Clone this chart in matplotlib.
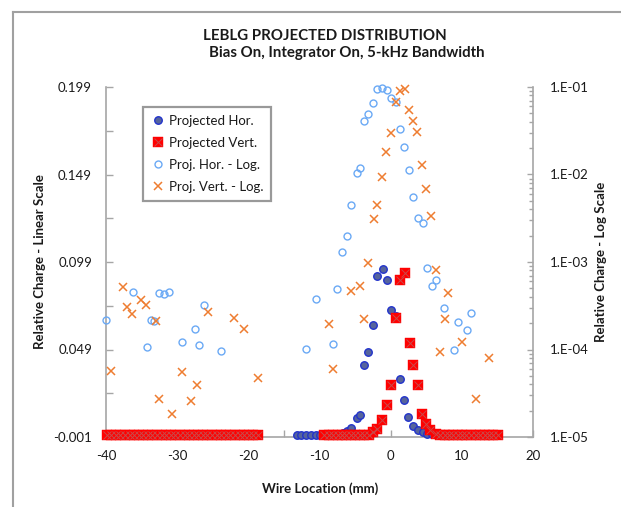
import numpy as np
import matplotlib
matplotlib.use('Agg')
import matplotlib.pyplot as plt
from matplotlib.ticker import FixedLocator, FuncFormatter, LogLocator, NullFormatter
from matplotlib.lines import Line2D

plt.rcParams['font.family'] = ['Lato', 'DejaVu Sans']

# ---------------- data ----------------
title_line1 = "LEBLG PROJECTED DISTRIBUTION"
title_line2 = "Bias On, Integrator On, 5-kHz Bandwidth"
xlabel = "Wire Location (mm)"
ylabel_left = "Relative Charge - Linear Scale"
ylabel_right = "Relative Charge - Log Scale"
series_names = ["Projected Hor.", "Projected Vert.", "Proj. Hor. - Log.", "Proj. Vert. - Log."]

left_ticks = [-0.001, 0.049, 0.099, 0.149, 0.199]
x_ticks = [-40, -30, -20, -10, 0, 10, 20]

# Projected Hor. (linear)
hor_x = [-13.2, -12.55, -11.9, -11.2, -10.55, -9.9, -9.25, -8.6, -7.95, -7.3, -6.75, -6.14,
         -5.6, -4.79, -4.28, -3.8, -3.15, -2.45, -1.88, -1.12, -0.57, 0.08, 0.69, 1.25,
         1.9, 2.5, 3.14, 3.84, 4.48, 5.1, 5.77, 6.4]
hor_lin = [0, 0, 0, 0, 0, 0, 0, 0, 0, 0, 0.0013, 0.0026,
           0.004, 0.010, 0.0116, 0.040, 0.0474, 0.0632, 0.091, 0.0948, 0.0887, 0.0717, 0.068, 0.0323,
           0.020, 0.0107, 0.0055, 0.0028, 0.002, 0.0008, 0.0005, 0.0006]

# Projected Vert. (linear)
vert_x = [-39.9, -39.26, -38.61, -37.97, -37.33, -36.68, -36.04, -35.4, -34.75, -34.11,
          -33.47, -32.82, -32.18, -31.54, -30.89, -30.25, -29.61, -28.96, -28.32, -27.68,
          -27.03, -26.39, -25.75, -25.1, -24.46, -23.82, -23.17, -22.53, -21.89, -21.24,
          -20.6, -19.96, -19.31, -18.67,
          -9.3, -8.68, -8.07, -7.45, -6.84, -6.22, -5.63, -4.99, -4.37, -3.72,
          -3.1, -2.45, -1.93, -1.25, -0.55, 0.06, 0.72, 1.31, 1.98, 2.65,
          3.1, 3.78, 4.4, 5.03, 5.55, 6.31, 6.97, 7.58, 8.15, 8.8,
          9.4, 10.02, 10.65, 11.3, 11.99, 12.6, 13.2, 13.76, 14.4, 15.05]
vert_lin = [0, 0, 0, 0, 0, 0, 0, 0, 0, 0,
            0, 0, 0, 0, 0, 0, 0, 0, 0, 0,
            0, 0, 0, 0, 0, 0, 0, 0, 0, 0,
            0, 0, 0, 0,
            0, 0, 0, 0, 0, 0, 0, 0, 0, 0,
            0.0001, 0.002, 0.0036, 0.0087, 0.0171, 0.0285, 0.0668, 0.089, 0.0925, 0.053,
            0.040, 0.029, 0.012, 0.0063, 0.003, 0.0005, 0, 0, 0, 0,
            0, 0, 0, 0, 0, 0, 0, 0, 0, 0]

# Proj. Hor. - Log
hlog_x = [-40.0, -36.25, -34.3, -33.68, -33.2, -32.5, -31.85, -31.2, -29.29, -27.5, -26.9,
          -26.24, -23.8, -11.85, -10.55, -8.17, -7.5, -6.84, -6.18, -5.6, -4.74, -4.28,
          -3.75, -3.15, -2.45, -1.88, -1.17, -0.57, 0.08, 0.69, 1.25, 1.9, 2.52, 3.16,
          3.84, 4.48, 5.1, 5.77, 6.4, 7.49, 8.84, 9.46, 10.76, 11.24]
hlog_y = [2.17e-4, 4.51e-4, 1.08e-4, 2.17e-4, 2.13e-4, 4.39e-4, 4.27e-4, 4.51e-4, 1.22e-4,
          1.71e-4, 1.12e-4, 3.23e-4, 9.62e-5, 1.01e-4, 3.75e-4, 1.15e-4, 4.91e-4, 1.30e-3,
          1.97e-3, 4.48e-3, 1.04e-2, 1.18e-2, 4.08e-2, 4.88e-2, 6.61e-2, 9.48e-2, 9.82e-2,
          9.25e-2, 7.55e-2, 6.79e-2, 3.31e-2, 2.05e-2, 1.12e-2, 5.53e-3, 3.21e-3, 2.77e-3,
          8.47e-4, 5.36e-4, 6.28e-4, 2.96e-4, 9.86e-5, 2.05e-4, 1.66e-4, 2.61e-4]

# Proj. Vert. - Log
vlog_x = [-39.35, -37.67, -37.0, -36.3, -35.08, -34.38, -33.03, -32.6, -30.7, -29.38, -28.1,
          -27.17, -25.67, -22.0, -20.66, -18.7, -8.68, -8.07, -5.63, -4.37, -3.72, -3.12,
          -2.4, -1.98, -1.28, -0.6, 0.04, 0.69, 1.31, 1.96, 2.6, 3.08, 3.73, 4.34, 5.0,
          5.61, 6.31, 6.97, 7.58, 8.08, 10.02, 11.99, 13.76]
vlog_y = [5.68e-5, 5.18e-4, 3.06e-4, 2.56e-4, 3.68e-4, 3.20e-4, 2.13e-4, 2.72e-5, 1.85e-5,
          5.50e-5, 2.56e-5, 3.93e-5, 2.70e-4, 2.28e-4, 1.73e-4, 4.72e-5, 1.95e-4, 6.04e-5,
          4.70e-4, 5.36e-4, 2.21e-4, 9.75e-4, 3.08e-3, 4.52e-3, 9.35e-3, 1.82e-2, 2.96e-2,
          6.79e-2, 9.08e-2, 9.42e-2, 5.46e-2, 4.12e-2, 3.03e-2, 1.29e-2, 6.78e-3, 3.36e-3,
          8.11e-4, 9.44e-5, 2.25e-4, 4.46e-4, 1.22e-4, 2.74e-5, 7.94e-5]

# ---------------- style ----------------
W, H = 621, 507
TXT = '#1a1a1a'
AXC = '#a6a6a6'
C_HOR_FACE = '#56649c'
C_HOR_EDGE = '#2233cc'
C_VERT = '#ff0000'
C_VERT_X = '#c94a4a'
C_HLOG = '#6aa9f5'
C_VLOG = '#ee7d31'

fig = plt.figure(figsize=(W / 100, H / 100), dpi=100)
ax = fig.add_axes([106 / W, 1 - 437 / H, 427 / W, 350 / H])
ax2 = ax.twinx()

# linear series
h1, = ax.plot(hor_x, hor_lin, ls='none', marker='o', ms=5.4, mfc=C_HOR_FACE, mec=C_HOR_EDGE,
              mew=1.0, clip_on=False, zorder=3)
h2a, = ax.plot(vert_x, vert_lin, ls='none', marker='s', ms=7.8, mfc=C_VERT, mec=C_VERT,
               mew=0.3, clip_on=False, zorder=4)
h2b, = ax.plot(vert_x, vert_lin, ls='none', marker='x', ms=5.8, mec=C_VERT_X, mew=0.7,
               clip_on=False, zorder=5)

# log series
h3, = ax2.plot(hlog_x, hlog_y, ls='none', marker='o', ms=5.0, mfc='none', mec=C_HLOG,
               mew=1.0, clip_on=False, zorder=3)
h4, = ax2.plot(vlog_x, vlog_y, ls='none', marker='x', ms=5.4, mec=C_VLOG, mew=1.1,
               clip_on=False, zorder=4)

ax.set_xlim(-40, 20)
ax.set_ylim(-0.001, 0.199)
ax2.set_yscale('log')
ax2.set_ylim(1e-5, 1e-1)

# spines
for a in (ax, ax2):
    a.spines['top'].set_visible(False)
    for s in ('left', 'bottom', 'right'):
        a.spines[s].set_color(AXC)
        a.spines[s].set_linewidth(1.2)
ax.spines['right'].set_visible(False)
ax2.spines['left'].set_visible(False)
ax2.spines['bottom'].set_visible(False)

# ticks
ax.xaxis.set_major_locator(FixedLocator(x_ticks))
ax.xaxis.set_minor_locator(FixedLocator([-35, -25, -15, -5, 5, 15]))
ax.yaxis.set_major_locator(FixedLocator(left_ticks))
ax.yaxis.set_minor_locator(FixedLocator([0.024, 0.074, 0.124, 0.174]))
ax.yaxis.set_major_formatter(FuncFormatter(lambda v, p: f"{v:.3f}"))
ax.xaxis.set_major_formatter(FuncFormatter(lambda v, p: f"{int(v)}"))
ax.tick_params(axis='both', which='both', direction='in', color=AXC, width=1.0,
               labelcolor=TXT, labelsize=9.5)
ax.tick_params(axis='both', which='both', length=5)
ax.tick_params(axis='y', pad=10)
ax.tick_params(axis='x', pad=9)

ax2.yaxis.set_major_locator(LogLocator(base=10))
ax2.yaxis.set_minor_locator(LogLocator(base=10, subs=list(range(2, 10))))
ax2.yaxis.set_minor_formatter(NullFormatter())
ax2.yaxis.set_major_formatter(FuncFormatter(lambda v, p: "1.E" + f"{int(round(np.log10(v))):+03d}"))
ax2.tick_params(axis='y', which='both', direction='in', color=AXC, width=1.0,
                labelcolor=TXT, labelsize=9.5, pad=12)
ax2.tick_params(axis='y', which='major', length=4)
ax2.tick_params(axis='y', which='minor', length=3)

# legend
leg = ax2.legend([h1, (h2a, h2b), h3, h4], series_names, loc='upper left',
                 bbox_to_anchor=(143 / W, 1 - 107 / H), bbox_transform=fig.transFigure,
                 borderaxespad=0, fontsize=9.5, frameon=True, fancybox=False,
                 handlelength=1.0, handletextpad=0.35, labelspacing=0.75,
                 borderpad=0.6, labelcolor=TXT)
leg.get_frame().set_edgecolor('#808080')
leg.get_frame().set_linewidth(1.6)

# titles and labels
fig.text(325 / W, 1 - 40 / H, title_line1, ha='center', va='baseline', fontsize=10.8,
         fontweight='bold', color=TXT)
fig.text(347 / W, 1 - 57 / H, title_line2, ha='center', va='baseline', fontsize=10.8,
         fontweight='bold', color=TXT)
fig.text(320 / W, 1 - 489 / H, xlabel, ha='center', va='center', fontsize=9.5,
         fontweight='bold', color=TXT)
fig.text(40 / W, 1 - 262 / H, ylabel_left, ha='center', va='center', rotation=90,
         fontsize=9.5, fontweight='bold', color=TXT)
fig.text(601 / W, 1 - 262 / H, ylabel_right, ha='center', va='center', rotation=90,
         fontsize=9.5, fontweight='bold', color=TXT)

# outer chart frame (partially visible)
fig.add_artist(Line2D([13 / W, 13 / W], [0, 1 - 12 / H], transform=fig.transFigure,
                      color='#a0a0a0', lw=1.5))
fig.add_artist(Line2D([13 / W, 1], [1 - 12 / H, 1 - 12 / H], transform=fig.transFigure,
                      color='#a0a0a0', lw=1.5))

fig.savefig('out.png', dpi=100)
